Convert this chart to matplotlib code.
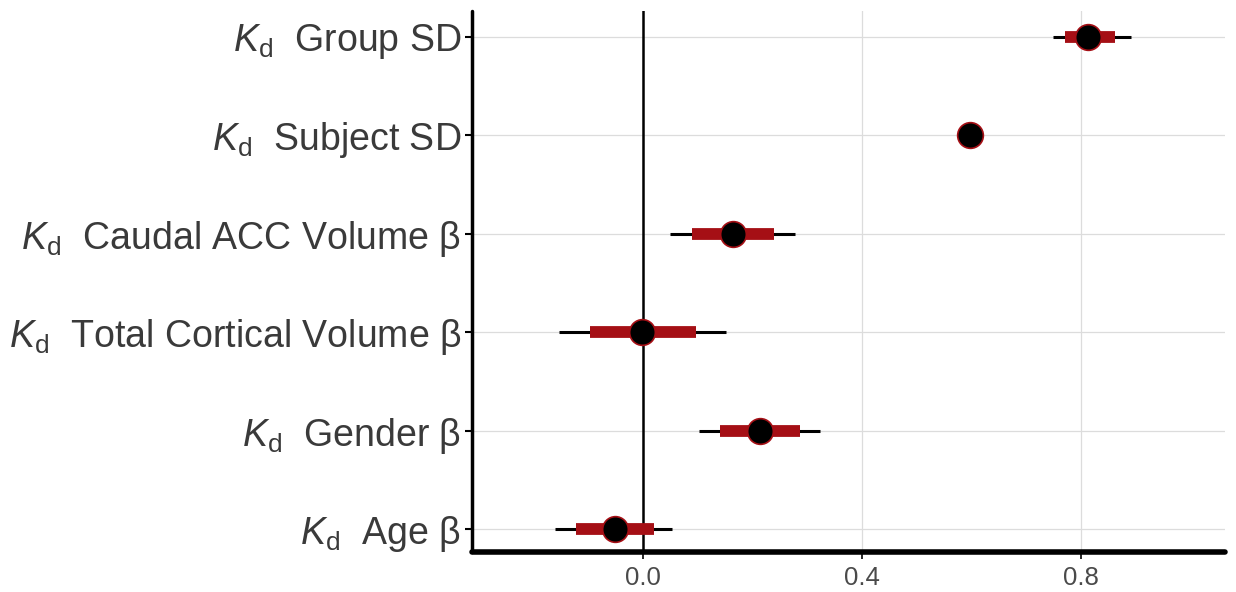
import matplotlib
matplotlib.use("Agg")
import matplotlib.pyplot as plt

plt.rcParams['mathtext.fontset'] = 'custom'
plt.rcParams['mathtext.rm'] = 'Liberation Sans'
plt.rcParams['mathtext.it'] = 'Liberation Sans:italic'
plt.rcParams['font.family'] = ['Liberation Sans', 'DejaVu Sans']

# Data (top to bottom)
labels = [r"$\mathit{K}_{\mathrm{d}}$  Group SD",
          r"$\mathit{K}_{\mathrm{d}}$  Subject SD",
          r"$\mathit{K}_{\mathrm{d}}$  Caudal ACC Volume β",
          r"$\mathit{K}_{\mathrm{d}}$  Total Cortical Volume β",
          r"$\mathit{K}_{\mathrm{d}}$  Gender β",
          r"$\mathit{K}_{\mathrm{d}}$  Age β"]
median = [0.813, 0.597, 0.165, -0.001, 0.214, -0.051]
inner_lo = [0.771, 0.585, 0.089, -0.097, 0.141, -0.123]
inner_hi = [0.862, 0.610, 0.239, 0.097, 0.287, 0.020]
outer_lo = [0.749, 0.580, 0.049, -0.153, 0.103, -0.161]
outer_hi = [0.891, 0.615, 0.278, 0.152, 0.323, 0.053]
xticks = [0.0, 0.4, 0.8]
xticklabels = ["0.0", "0.4", "0.8"]

n = len(labels)
ypos = [n - 1 - i for i in range(n)]

fig = plt.figure(figsize=(12.36, 5.92), dpi=100)
ax = fig.add_axes([0.382, 0.068, 0.609, 0.913])

ax.set_xlim(-0.312, 1.063)
ax.set_ylim(-0.23, 5.26)

# gridlines
for x in xticks:
    ax.axvline(x, color='#dcdcdc', lw=0.9, zorder=0)
for y in ypos:
    ax.axhline(y, color='#dcdcdc', lw=0.9, zorder=0)
ax.axvline(0, color='black', lw=1.8, zorder=1)

ax.hlines(ypos, outer_lo, outer_hi, color='black', lw=2.2, zorder=2)
ax.hlines(ypos, inner_lo, inner_hi, color='#a50f15', lw=8.5, zorder=3)
ax.plot(median, ypos, 'o', ms=18.5, mfc='black', mec='#a50f15', mew=1.2, zorder=4, ls='none')

ax.set_yticks(ypos)
ax.set_yticklabels(labels, fontsize=27, color='#3a3a3a')
ax.set_xticks(xticks)
ax.set_xticklabels(xticklabels, fontsize=18.5, color='#4a4a4a',
                   family=['Liberation Sans Narrow', 'Liberation Sans'])
ax.tick_params(axis='y', length=5, width=1.5, color='black', pad=3)
ax.tick_params(axis='x', length=5, width=1.2, color='black', pad=5)

for s in ['top', 'right']:
    ax.spines[s].set_visible(False)
ax.spines['left'].set_linewidth(2.5)
ax.spines['bottom'].set_linewidth(4)
ax.spines['left'].set_capstyle('round')
ax.spines['bottom'].set_capstyle('round')

fig.savefig("out.png", dpi=100, facecolor='white')
